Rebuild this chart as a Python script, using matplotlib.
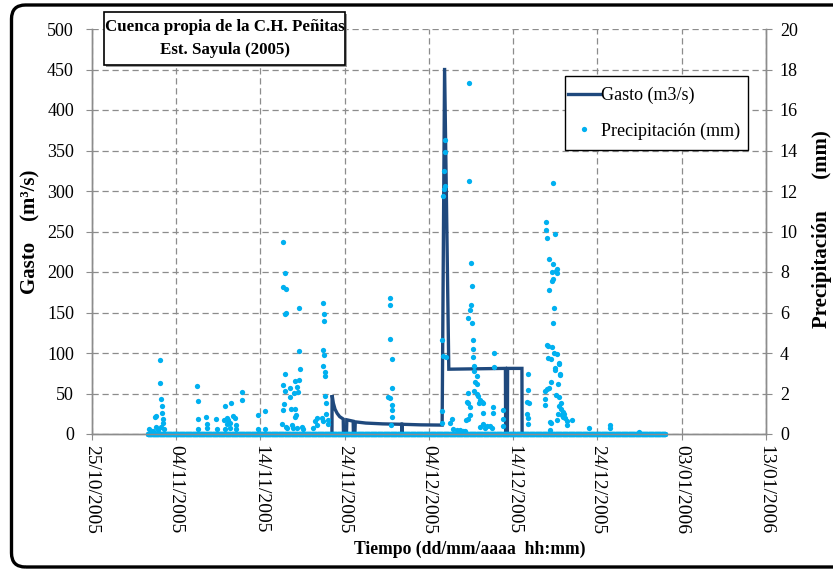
import datetime as dt
import numpy as np
import matplotlib
matplotlib.use("Agg")
import matplotlib.pyplot as plt
from matplotlib.patches import FancyBboxPatch, Rectangle
from matplotlib.lines import Line2D

plt.rcParams['font.family'] = ['Liberation Serif', 'DejaVu Serif']

# ---------------- data ----------------
base_date = dt.datetime(2005, 10, 25)

# Gasto (m3/s): days since 25/10/2005 and values
gasto_day = [28.48, 28.5, 28.65, 28.85, 29.1, 29.4, 29.82, 29.85, 30.2, 30.25,
             31.0, 31.03, 31.2, 31.25, 32.5, 34.5, 36.75, 36.77, 36.8, 36.82,
             39.0, 41.56, 41.85, 42.35, 49.07, 49.1, 49.3, 49.33, 51.03, 51.05, 54.4]
gasto_val = [0, 48, 38, 30.5, 25.5, 21.4, 18.5, 0, 0, 17.5,
             15.8, 0, 0, 15, 13.5, 12.5, 12, 0, 0, 12,
             11.3, 11, 452, 80, 81, 0, 0, 81, 81, 0, 0]

# Precipitation (mm): non-zero readings (days since 25/10/2005, mm)
precip_day = [
    6.80, 7.09, 7.28, 7.51, 7.60, 7.60, 7.83, 8.07, 8.07, 8.15, 8.19, 8.27, 8.31, 8.39, 8.46, 8.58,
    12.50, 12.58, 12.62, 12.62, 13.53, 13.61, 13.61, 14.68, 14.80,
    15.70, 15.79, 15.79, 15.99, 16.06, 16.18, 16.38, 16.38, 16.50, 16.77, 17.01, 17.09, 17.09,
    17.77, 17.80, 19.74, 19.74, 20.50, 20.50,
    22.55, 22.63, 22.67, 22.71, 22.71, 22.79, 22.87, 22.91, 22.91, 22.94, 22.99, 23.03, 23.03, 23.15,
    23.46, 23.50, 23.62, 23.70, 23.89, 24.01, 24.09, 24.09, 24.13, 24.21, 24.29, 24.29, 24.41,
    24.57, 24.60, 24.60, 24.65, 24.89, 25.08,
    26.27, 26.47, 26.67, 26.74,
    27.26, 27.38, 27.38, 27.42, 27.45, 27.50, 27.54, 27.57, 27.62, 27.66, 27.69, 27.73, 27.77, 27.98, 27.98,
    35.17, 35.37, 35.37, 35.37, 35.37, 35.57, 35.57, 35.57, 35.57, 35.57, 35.45,
    41.50, 41.58, 41.58, 41.62, 41.70, 41.74, 41.82, 41.90, 41.90, 41.90, 41.98,
    42.49, 42.69, 42.9, 43.3, 43.7, 44.0, 44.3,
    44.39, 44.55, 44.59, 44.59, 44.59, 44.66, 44.71, 44.78, 44.86, 44.86, 44.90, 45.02, 45.02,
    45.14, 45.14, 45.18, 45.21, 45.21, 45.30, 45.34, 45.37, 45.50, 45.66, 45.66, 45.66, 45.85,
    45.97, 46.05, 46.26, 46.37, 46.44,
    46.05, 46.44, 46.65, 46.85, 47.24, 47.44,
    47.63, 47.63, 47.72, 47.72, 48.75, 48.75, 48.75,
    51.58, 51.63, 51.70, 51.75, 51.75, 51.79, 51.91,
    53.77, 53.77, 53.80, 53.89, 53.92, 53.97, 53.97, 53.97, 54.16, 54.16, 54.20, 54.20, 54.24,
    54.36, 54.36, 54.44, 54.47, 54.47, 54.56, 54.56, 54.63, 54.68, 54.68, 54.72, 54.75, 54.84,
    54.84, 54.96, 54.96, 54.99, 55.08, 55.08, 55.16, 55.16, 55.16, 55.23, 55.35, 55.35, 55.45,
    55.45, 55.45, 55.48, 55.55, 55.55, 55.63, 55.66, 55.75, 55.87, 55.90, 55.94, 56.06, 56.14,
    56.34, 56.34, 56.94,
    59.02, 61.48, 61.48, 64.96,
]
precip_val = [
    0.23, 0.15, 0.15, 0.82, 0.89, 0.36, 0.20, 3.65, 2.53, 0.36, 1.73, 1.38, 1.02, 0.72, 0.56, 0.26,
    2.37, 1.63, 0.72, 0.23, 0.86, 0.48, 0.31, 0.76, 0.23,
    0.69, 1.38, 0.25, 0.77, 0.48, 0.69, 0.53, 0.30, 1.53, 0.89, 0.79, 0.44, 0.23,
    2.09, 1.69, 0.92, 0.24, 1.14, 0.24,
    0.50, 1.20, 9.48, 7.26, 2.42, 1.50, 2.14, 5.91, 2.95, 7.95, 5.99, 7.14, 0.35, 0.30,
    2.26, 1.84, 1.22, 0.45, 0.30, 2.01, 1.25, 0.82, 2.63, 0.94, 2.34, 0.30, 2.07,
    6.22, 4.10, 2.68, 3.19, 0.35, 0.25,
    0.30, 0.65, 0.45, 0.80,
    0.77, 3.36, 0.64, 4.13, 6.49, 5.91, 5.60, 3.92, 3.05, 2.88, 1.89, 1.51, 0.97, 0.69, 0.49,
    1.84, 6.70, 6.35, 4.69, 1.76, 3.69, 2.26, 1.43, 1.19, 0.86, 0.44,
    0.56, 4.64, 1.14, 3.87, 11.77, 13.00, 12.08, 14.52, 13.94, 12.25, 3.82,
    0.53, 0.72, 0.25, 0.20, 0.20, 0.15, 0.15,
    0.69, 1.60, 5.73, 2.04, 0.72, 1.51, 12.51, 17.35, 1.35, 0.94, 6.12, 8.46, 6.37,
    7.29, 5.47, 4.64, 4.18, 3.80, 3.37, 3.13, 2.10, 2.58, 2.88, 2.45, 1.96, 1.87,
    1.55, 1.70, 1.60, 1.02, 1.51,
    0.35, 0.50, 0.30, 0.40, 0.40, 0.30,
    1.35, 1.05, 4.01, 3.32, 1.19, 0.72, 0.40,
    1.60, 0.99, 2.17, 0.80, 0.50, 2.96, 1.51,
    2.14, 1.71, 1.43, 10.06, 10.47, 9.66, 4.40, 2.21, 4.35, 3.74, 7.13, 2.26, 8.63,
    0.20, 0.60, 0.56, 3.70, 2.58, 8.02, 4.31, 7.57, 12.38, 8.38, 5.48, 7.65, 6.21,
    3.98, 3.24, 3.16, 9.86, 1.93, 8.06, 8.13, 3.95, 0.70, 7.94, 2.47, 1.00, 3.52,
    3.46, 1.38, 1.84, 2.96, 2.90, 1.51, 1.22, 0.94, 1.10, 0.85, 0.90, 1.00, 0.80,
    0.65, 0.45, 0.70,
    0.28, 0.44, 0.28, 0.11,
]
# period with (mostly zero) hourly precipitation readings
precip_zero_start = 6.6
precip_zero_end = 68.1

x_tick_labels = ["25/10/2005", "04/11/2005", "14/11/2005", "24/11/2005", "04/12/2005",
                 "14/12/2005", "24/12/2005", "03/01/2006", "13/01/2006"]
left_ticks = [0, 50, 100, 150, 200, 250, 300, 350, 400, 450, 500]
right_ticks = [0, 2, 4, 6, 8, 10, 12, 14, 16, 18, 20]

# ---------------- figure ----------------
W, H = 833, 572
fig = plt.figure(figsize=(W / 100, H / 100), dpi=100)
L, R, T, B = 92, 766, 29, 434
ax = fig.add_axes([L / W, 1 - B / H, (R - L) / W, (B - T) / H])
ax2 = ax.twinx()

def to_dates(days):
    return [base_date + dt.timedelta(days=float(d)) for d in days]

gcol = '#1F497D'
pcol = '#00B0F0'

ax.plot(to_dates(gasto_day), gasto_val, color=gcol, lw=2.4, zorder=3,
        solid_joinstyle='miter')

zero_days = np.arange(precip_zero_start, precip_zero_end, 1 / 24)
ax2.plot(to_dates(zero_days), np.zeros_like(zero_days), linestyle='none', marker='o',
         ms=3.8, color=pcol, mec='none', clip_on=False)
ax2.plot(to_dates(precip_day), precip_val, linestyle='none', marker='o',
         ms=3.8, color=pcol, mec='none', clip_on=False)

xt = to_dates([10 * k for k in range(len(x_tick_labels))])
ax.set_xlim(xt[0], xt[-1])
ax.set_xticks(xt)
ax.set_xticklabels(x_tick_labels, rotation=-90, fontsize=14)
ax.set_ylim(0, 500)
ax.set_yticks(left_ticks)
ax.set_yticklabels([str(v) for v in left_ticks], fontsize=13)
ax2.set_ylim(0, 20)
ax2.set_yticks(right_ticks)
ax2.set_yticklabels([str(v) for v in right_ticks], fontsize=13)

gridc = '#8c8c8c'
ax.grid(True, color=gridc, linestyle=(0, (5, 3)), linewidth=0.9)
ax.set_axisbelow(True)
for a in (ax, ax2):
    a.spines['top'].set_visible(False)
    for s in ('left', 'right', 'bottom'):
        a.spines[s].set_color(gridc)
        a.spines[s].set_linewidth(1.0)
ax.tick_params(axis='y', direction='out', length=4, color=gridc, pad=9)
ax.tick_params(axis='x', direction='out', length=4, color=gridc, pad=4)
ax2.tick_params(axis='y', direction='out', length=4, color=gridc, pad=6)

# axis labels
fig.text(30 / W, 1 - 232 / H, "Gasto    (m³/s)", rotation=90, ha='center', va='center',
         fontsize=15, fontweight='bold')
fig.text(822 / W, 1 - 229 / H, "Precipitación      (mm)", rotation=90, ha='center', va='center',
         fontsize=15, fontweight='bold')
fig.text(470 / W, 1 - 549 / H, "Tiempo (dd/mm/aaaa  hh:mm)", ha='center', va='center',
         fontsize=12.7, fontweight='bold')

# title box
fig.patches.append(Rectangle((106 / W, 1 - 67 / H), (345 - 104) / W, (65 - 12) / H,
                             transform=fig.transFigure, facecolor='#9a9a9a',
                             edgecolor='none', zorder=5))
fig.patches.append(Rectangle((104 / W, 1 - 65 / H), (345 - 104) / W, (65 - 12) / H,
                             transform=fig.transFigure, facecolor='white',
                             edgecolor='black', lw=1.2, zorder=6))
fig.text(225 / W, 1 - 27 / H, "Cuenca propia de la C.H. Peñitas", ha='center', va='center',
         fontsize=12.2, fontweight='bold', zorder=7)
fig.text(225 / W, 1 - 50 / H, "Est. Sayula (2005)", ha='center', va='center',
         fontsize=12.2, fontweight='bold', zorder=7)

# legend (frame drawn separately)
fig.patches.append(Rectangle((565 / W, 1 - 150 / H), (748 - 565) / W, (150 - 76) / H,
                             transform=fig.transFigure, facecolor='white',
                             edgecolor='black', lw=1.0, zorder=5))
handles = [Line2D([], [], color=gcol, lw=2.4),
           Line2D([], [], linestyle='none', marker='o', ms=3.8, color=pcol, mec='none')]
leg = fig.legend(handles, ["Gasto (m3/s)", "Precipitación (mm)"],
                 loc='upper left', bbox_to_anchor=(568 / W, 1 - 87 / H),
                 bbox_transform=fig.transFigure, fontsize=13, frameon=False,
                 handlelength=1.75, handletextpad=0.1, labelspacing=1.0,
                 borderpad=0, borderaxespad=0)
leg.set_zorder(8)

# outer rounded frame
fig.patches.append(FancyBboxPatch((0.115, 0.05), 8.5, 5.62,
                                  boxstyle="round,pad=0,rounding_size=0.14",
                                  transform=fig.dpi_scale_trans, facecolor='none',
                                  edgecolor='black', lw=2.4, zorder=10))

fig.savefig("out.png", dpi=100)
